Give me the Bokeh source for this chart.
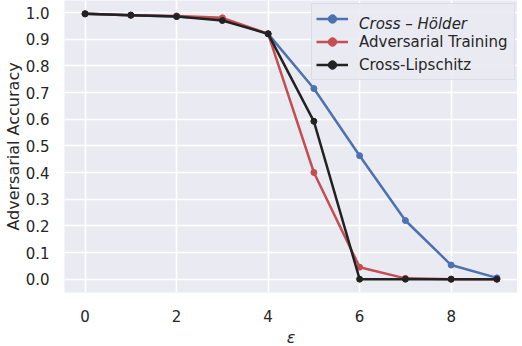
from bokeh.plotting import figure
from bokeh.models import Legend, LegendItem, FixedTicker, Range1d
from bokeh.embed import file_html
from bokeh.resources import INLINE

eps = [0, 1, 2, 3, 4, 5, 6, 7, 8, 9]
holder = [0.995, 0.99, 0.985, 0.975, 0.92, 0.715, 0.463, 0.22, 0.053, 0.005]
adv = [0.995, 0.99, 0.987, 0.98, 0.92, 0.40, 0.045, 0.003, 0.0, 0.0]
lip = [0.995, 0.99, 0.985, 0.97, 0.92, 0.592, 0.0, 0.0, 0.0, 0.0]
x_ticks = [0, 2, 4, 6, 8]
y_ticks = [0.0, 0.1, 0.2, 0.3, 0.4, 0.5, 0.6, 0.7, 0.8, 0.9, 1.0]

BG = "#eaeaf2"
TXT = "#262626"

FW, FH = 453, 292
p = figure(frame_width=FW, frame_height=FH, output_backend="svg", toolbar_location=None,
           x_range=Range1d(-0.45, 9.45), y_range=Range1d(-0.05, 1.045),
           min_border_left=50, min_border_right=0, min_border_top=0, min_border_bottom=40)
p.background_fill_color = BG
p.border_fill_color = "white"
p.outline_line_color = None

for g in (p.xgrid, p.ygrid):
    g.grid_line_color = "white"
    g.grid_line_width = 1.6

p.xaxis.ticker = FixedTicker(ticks=x_ticks)
p.yaxis.ticker = FixedTicker(ticks=y_ticks)
p.yaxis.major_label_overrides = {t: f"{t:.1f}" for t in y_ticks}
for ax in (p.xaxis, p.yaxis):
    ax.axis_line_color = None
    ax.major_tick_line_color = None
    ax.minor_tick_line_color = None
    ax.major_label_text_font = "DejaVu Sans"
    ax.major_label_text_font_size = "15px"
    ax.major_label_text_color = TXT
    ax.axis_label_text_font = "DejaVu Sans"
    ax.axis_label_text_font_size = "16px"
    ax.axis_label_text_color = TXT
p.xaxis.major_label_standoff = 11
p.yaxis.major_label_standoff = 9
p.xaxis.axis_label = "ε"
p.xaxis.axis_label_text_font_style = "italic"
p.xaxis.axis_label_standoff = 3
p.yaxis.axis_label = "Adversarial Accuracy"
p.yaxis.axis_label_text_font_style = "normal"
p.yaxis.axis_label_standoff = 0

series = [("Cross – Hölder", holder, "#4c72b0"),
          ("Adversarial Training", adv, "#c44e52"),
          ("Cross-Lipschitz", lip, "#222222")]
rends = []
for name, ys, col in series:
    l = p.line(eps, ys, line_color=col, line_width=2.5)
    s = p.scatter(eps, ys, marker="circle", size=6, fill_color=col, line_color=col)
    rends.append([l, s])

ghost = p.line(eps, holder, line_alpha=0)

# main legend: glyphs for all three rows, upright labels for rows 2-3
main_items = [LegendItem(label="", renderers=rends[0]),
              LegendItem(label=series[1][0], renderers=rends[1]),
              LegendItem(label=series[2][0], renderers=rends[2])]
# overlay legend with identical layout: italic label for row 1 only
ital_items = [LegendItem(label=series[0][0], renderers=[ghost]),
              LegendItem(label="", renderers=[ghost]),
              LegendItem(label="", renderers=[ghost])]

common = dict(padding=4, spacing=2, label_height=21, glyph_height=21, glyph_width=32,
              label_width=151, label_text_font="DejaVu Sans",
              label_text_font_size="15px", label_text_color=TXT, margin=0)

LEG_H = 3 * 21 + 2 * 2 + 2 * 4
loc = (247, FH - 5 - LEG_H)
main_leg = Legend(items=main_items, location=loc, label_standoff=11,
                  background_fill_color=BG, background_fill_alpha=0.9,
                  border_line_color="#cdcdd3", border_line_width=1, **common)
ital_leg = Legend(items=ital_items, location=loc, label_standoff=16,
                  background_fill_alpha=0.0, border_line_color=None,
                  label_text_font_style="italic", **common)
p.add_layout(main_leg, "center")
p.add_layout(ital_leg, "center")

open("out.html", "w").write(file_html(p, INLINE))
